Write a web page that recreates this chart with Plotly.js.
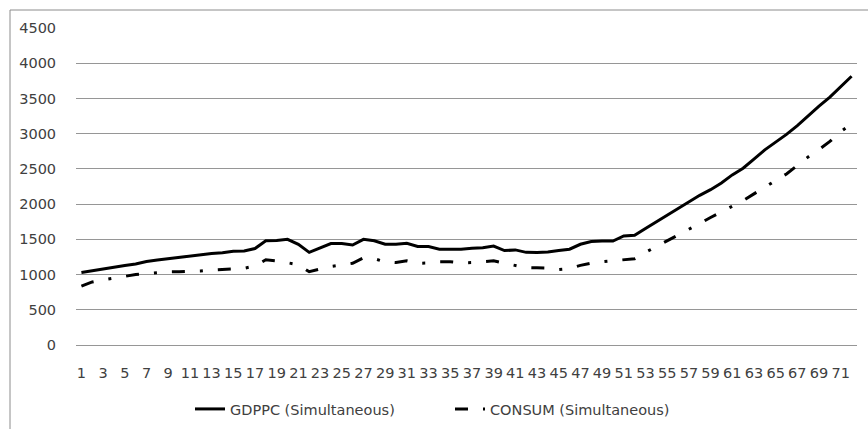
<!DOCTYPE html>
<html>
<head>
<meta charset="utf-8">
<script src="https://cdn.plot.ly/plotly-3.0.1.min.js"></script>
<style>
html,body{margin:0;padding:0;background:#fff;}
#chart{width:868px;height:429px;}
</style>
</head>
<body>
<div id="chart"></div>
<script>
const periods = Array.from({length: 72}, (_, i) => i + 1);
const tickLabels = periods.filter(p => p % 2 === 1).map(String);

const gdppc = [
  1030, 1055, 1090, 1110, 1130, 1150, 1185, 1205, 1225, 1245,
  1265, 1285, 1300, 1310, 1330, 1336, 1370, 1480, 1482, 1500,
  1430, 1315, 1375, 1440, 1440, 1420, 1500, 1480, 1430, 1430,
  1445, 1400, 1398, 1360, 1360, 1360, 1375, 1380, 1405, 1340,
  1350, 1315, 1312, 1320, 1340, 1360, 1430, 1470, 1476, 1476,
  1548, 1557, 1655, 1750, 1835, 1940, 2030, 2125, 2205, 2300,
  2415, 2510, 2640, 2770, 2880, 2990, 3115, 3255, 3390, 3520,
  3670, 3815
];

const consum = [
  835, 895, 925, 950, 980, 1000, 1015, 1028, 1038, 1040,
  1043, 1050, 1065, 1074, 1076, 1090, 1120, 1210, 1195, 1170,
  1140, 1040, 1080, 1115, 1135, 1160, 1238, 1226, 1180, 1170,
  1195, 1160, 1165, 1180, 1181, 1165, 1170, 1185, 1195, 1160,
  1125, 1098, 1095, 1090, 1072, 1085, 1130, 1162, 1181, 1195,
  1210, 1225, 1315, 1395, 1480, 1560, 1640, 1725, 1810, 1890,
  1970, 2050, 2145, 2245, 2335, 2428, 2550, 2670, 2775, 2890,
  3030, 3140
];

const seriesNames = ['GDPPC (Simultaneous)', 'CONSUM (Simultaneous)'];
const yTicks = [0, 500, 1000, 1500, 2000, 2500, 3000, 3500, 4000, 4500];

const font = {family: 'DejaVu Sans, Verdana, sans-serif', size: 14.5, color: '#404040'};

const traces = [
  {x: periods, y: gdppc, name: seriesNames[0], type: 'scatter', mode: 'lines',
   line: {color: '#000000', width: 3}},
  {x: periods, y: consum, name: seriesNames[1], type: 'scatter', mode: 'lines',
   line: {color: '#000000', width: 3, dash: '13px,15px,3px,15px'}}
];

const layout = {
  width: 868, height: 429,
  margin: {l: 76, r: 11, t: 28, b: 84, autoexpand: false},
  paper_bgcolor: '#ffffff', plot_bgcolor: '#ffffff',
  font: font,
  showlegend: true,
  legend: {orientation: 'h', xref: 'paper', x: (190 - 76) / 781, xanchor: 'left',
           yref: 'container', y: 1 - 409 / 429, yanchor: 'middle',
           font: font, entrywidth: 215, bgcolor: 'rgba(0,0,0,0)'},
  xaxis: {
    type: 'linear', range: [0.5, 72.5],
    tickmode: 'array', tickvals: periods.filter(p => p % 2 === 1), ticktext: tickLabels,
    showgrid: false, zeroline: false, showline: false,
    ticks: 'outside', ticklen: 15, tickcolor: 'rgba(0,0,0,0)',
    tickfont: font, fixedrange: true
  },
  yaxis: {
    range: [0, 4500], tickmode: 'array', tickvals: yTicks, ticktext: yTicks.map(String),
    showgrid: true, gridcolor: '#969696', gridwidth: 1,
    zeroline: true, zerolinecolor: '#969696', zerolinewidth: 1, showline: false,
    ticks: 'outside', ticklen: 16, tickcolor: 'rgba(0,0,0,0)',
    tickfont: font, fixedrange: true
  },
  shapes: [
    {type: 'rect', xref: 'paper', yref: 'paper',
     x0: (10 - 76) / 781, x1: 1.2, y0: -0.5, y1: 1 + (28 - 10) / 317,
     line: {color: '#8c8c8c', width: 1}, fillcolor: 'rgba(0,0,0,0)', layer: 'below'}
  ]
};

Plotly.newPlot('chart', traces, layout, {displayModeBar: false, staticPlot: true});
</script>
</body>
</html>
